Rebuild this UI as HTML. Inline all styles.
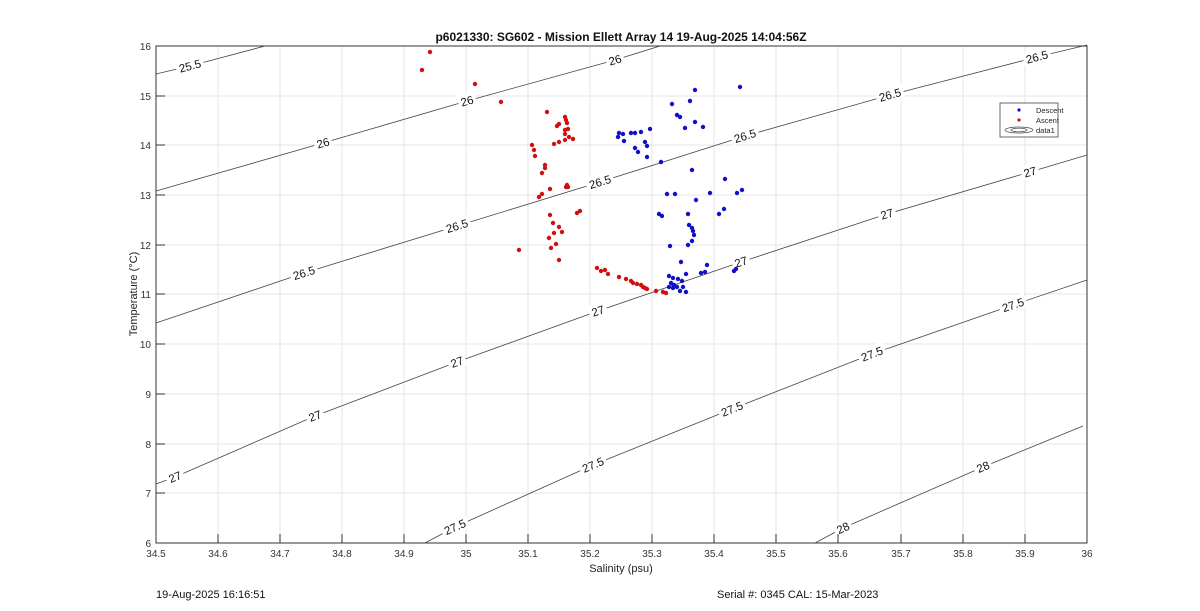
<!DOCTYPE html>
<html><head><meta charset="utf-8"><style>
body{margin:0;background:#fff;}
svg{display:block;font-family:"Liberation Sans",Arial,sans-serif;}
</style></head><body>
<svg width="1200" height="611" viewBox="0 0 1200 611" xmlns="http://www.w3.org/2000/svg">
<rect width="1200" height="611" fill="#fff"/>
<g stroke="#e6e6e6" stroke-width="1">
<line x1="218" y1="46" x2="218" y2="543"/><line x1="280" y1="46" x2="280" y2="543"/><line x1="342" y1="46" x2="342" y2="543"/><line x1="404" y1="46" x2="404" y2="543"/><line x1="466" y1="46" x2="466" y2="543"/><line x1="528" y1="46" x2="528" y2="543"/><line x1="590" y1="46" x2="590" y2="543"/><line x1="652" y1="46" x2="652" y2="543"/><line x1="714" y1="46" x2="714" y2="543"/><line x1="776" y1="46" x2="776" y2="543"/><line x1="838" y1="46" x2="838" y2="543"/><line x1="901" y1="46" x2="901" y2="543"/><line x1="963" y1="46" x2="963" y2="543"/><line x1="1025" y1="46" x2="1025" y2="543"/>
<line x1="156" y1="96" x2="1087" y2="96"/><line x1="156" y1="145" x2="1087" y2="145"/><line x1="156" y1="195" x2="1087" y2="195"/><line x1="156" y1="245" x2="1087" y2="245"/><line x1="156" y1="294" x2="1087" y2="294"/><line x1="156" y1="344" x2="1087" y2="344"/><line x1="156" y1="394" x2="1087" y2="394"/><line x1="156" y1="444" x2="1087" y2="444"/><line x1="156" y1="493" x2="1087" y2="493"/>
</g>
<g fill="none" stroke="#444" stroke-width="0.8">
<polyline points="156,74 190,66 265,46"/>
<polyline points="156,191 323,143 467,101 615,60 660,46"/>
<polyline points="156,323 304,273 457,226 600,182 745,136 890,95 1037,57 1087,45"/>
<polyline points="156,484 175,477 315,416 457,362 598,311 741,262 887,214 1030,172 1087,155"/>
<polyline points="425,543 455,527 593,465 732,409 872,354 1013,305 1087,280"/>
<polyline points="815,543 843,528 983,467 1083,426"/>
</g>
<g font-size="11.5" fill="#111" text-anchor="middle">
<g transform="translate(190,66) rotate(-15)"><rect x="-14" y="-8" width="28" height="14" fill="#fff"/><text y="4">25.5</text></g>
<g transform="translate(323,143) rotate(-16)"><rect x="-9" y="-8" width="18" height="14" fill="#fff"/><text y="4">26</text></g>
<g transform="translate(467,101) rotate(-16)"><rect x="-9" y="-8" width="18" height="14" fill="#fff"/><text y="4">26</text></g>
<g transform="translate(615,60) rotate(-16)"><rect x="-9" y="-8" width="18" height="14" fill="#fff"/><text y="4">26</text></g>
<g transform="translate(304,273) rotate(-17)"><rect x="-14" y="-8" width="28" height="14" fill="#fff"/><text y="4">26.5</text></g>
<g transform="translate(457,226) rotate(-17)"><rect x="-14" y="-8" width="28" height="14" fill="#fff"/><text y="4">26.5</text></g>
<g transform="translate(600,182) rotate(-17)"><rect x="-14" y="-8" width="28" height="14" fill="#fff"/><text y="4">26.5</text></g>
<g transform="translate(745,136) rotate(-17)"><rect x="-14" y="-8" width="28" height="14" fill="#fff"/><text y="4">26.5</text></g>
<g transform="translate(890,95) rotate(-16)"><rect x="-14" y="-8" width="28" height="14" fill="#fff"/><text y="4">26.5</text></g>
<g transform="translate(1037,57) rotate(-15)"><rect x="-14" y="-8" width="28" height="14" fill="#fff"/><text y="4">26.5</text></g>
<g transform="translate(175,477) rotate(-22)"><rect x="-9" y="-8" width="18" height="14" fill="#fff"/><text y="4">27</text></g>
<g transform="translate(315,416) rotate(-21)"><rect x="-9" y="-8" width="18" height="14" fill="#fff"/><text y="4">27</text></g>
<g transform="translate(457,362) rotate(-20)"><rect x="-9" y="-8" width="18" height="14" fill="#fff"/><text y="4">27</text></g>
<g transform="translate(598,311) rotate(-19)"><rect x="-9" y="-8" width="18" height="14" fill="#fff"/><text y="4">27</text></g>
<g transform="translate(741,262) rotate(-18)"><rect x="-9" y="-8" width="18" height="14" fill="#fff"/><text y="4">27</text></g>
<g transform="translate(887,214) rotate(-17)"><rect x="-9" y="-8" width="18" height="14" fill="#fff"/><text y="4">27</text></g>
<g transform="translate(1030,172) rotate(-16)"><rect x="-9" y="-8" width="18" height="14" fill="#fff"/><text y="4">27</text></g>
<g transform="translate(455,527) rotate(-24)"><rect x="-14" y="-8" width="28" height="14" fill="#fff"/><text y="4">27.5</text></g>
<g transform="translate(593,465) rotate(-23)"><rect x="-14" y="-8" width="28" height="14" fill="#fff"/><text y="4">27.5</text></g>
<g transform="translate(732,409) rotate(-22)"><rect x="-14" y="-8" width="28" height="14" fill="#fff"/><text y="4">27.5</text></g>
<g transform="translate(872,354) rotate(-21)"><rect x="-14" y="-8" width="28" height="14" fill="#fff"/><text y="4">27.5</text></g>
<g transform="translate(1013,305) rotate(-19)"><rect x="-14" y="-8" width="28" height="14" fill="#fff"/><text y="4">27.5</text></g>
<g transform="translate(843,528) rotate(-25)"><rect x="-9" y="-8" width="18" height="14" fill="#fff"/><text y="4">28</text></g>
<g transform="translate(983,467) rotate(-23)"><rect x="-9" y="-8" width="18" height="14" fill="#fff"/><text y="4">28</text></g>
</g>
<g fill="#d01010">
<circle cx="422" cy="70" r="2.2"/><circle cx="430" cy="52" r="2.2"/><circle cx="475" cy="84" r="2.2"/><circle cx="501" cy="102" r="2.2"/><circle cx="547" cy="112" r="2.2"/><circle cx="557" cy="126" r="2.2"/><circle cx="559" cy="124" r="2.2"/><circle cx="565" cy="117" r="2.2"/><circle cx="566" cy="120" r="2.2"/><circle cx="567" cy="123" r="2.2"/><circle cx="565" cy="130" r="2.2"/><circle cx="568" cy="129" r="2.2"/><circle cx="565" cy="134" r="2.2"/><circle cx="569" cy="137" r="2.2"/><circle cx="573" cy="139" r="2.2"/><circle cx="554" cy="144" r="2.2"/><circle cx="559" cy="142" r="2.2"/><circle cx="565" cy="140" r="2.2"/><circle cx="532" cy="145" r="2.2"/><circle cx="534" cy="150" r="2.2"/><circle cx="535" cy="156" r="2.2"/><circle cx="545" cy="165" r="2.2"/><circle cx="545" cy="168" r="2.2"/><circle cx="542" cy="173" r="2.2"/><circle cx="567" cy="185" r="2.2"/><circle cx="568" cy="187" r="2.2"/><circle cx="566" cy="187" r="2.2"/><circle cx="550" cy="189" r="2.2"/><circle cx="542" cy="194" r="2.2"/><circle cx="539" cy="197" r="2.2"/><circle cx="577" cy="213" r="2.2"/><circle cx="580" cy="211" r="2.2"/><circle cx="550" cy="215" r="2.2"/><circle cx="553" cy="223" r="2.2"/><circle cx="559" cy="227" r="2.2"/><circle cx="562" cy="232" r="2.2"/><circle cx="554" cy="233" r="2.2"/><circle cx="549" cy="238" r="2.2"/><circle cx="556" cy="244" r="2.2"/><circle cx="551" cy="248" r="2.2"/><circle cx="559" cy="260" r="2.2"/><circle cx="519" cy="250" r="2.2"/><circle cx="597" cy="268" r="2.2"/><circle cx="601" cy="271" r="2.2"/><circle cx="605" cy="270" r="2.2"/><circle cx="608" cy="274" r="2.2"/><circle cx="619" cy="277" r="2.2"/><circle cx="626" cy="279" r="2.2"/><circle cx="631" cy="281" r="2.2"/><circle cx="633" cy="283" r="2.2"/><circle cx="637" cy="284" r="2.2"/><circle cx="641" cy="285" r="2.2"/><circle cx="643" cy="287" r="2.2"/><circle cx="645" cy="288" r="2.2"/><circle cx="647" cy="289" r="2.2"/><circle cx="656" cy="291" r="2.2"/><circle cx="663" cy="292" r="2.2"/><circle cx="666" cy="293" r="2.2"/>
</g>
<g fill="#1010c8">
<circle cx="740" cy="87" r="2.2"/><circle cx="695" cy="90" r="2.2"/><circle cx="690" cy="101" r="2.2"/><circle cx="672" cy="104" r="2.2"/><circle cx="695" cy="122" r="2.2"/><circle cx="703" cy="127" r="2.2"/><circle cx="677" cy="115" r="2.2"/><circle cx="680" cy="117" r="2.2"/><circle cx="685" cy="128" r="2.2"/><circle cx="619" cy="133" r="2.2"/><circle cx="623" cy="134" r="2.2"/><circle cx="631" cy="133" r="2.2"/><circle cx="635" cy="133" r="2.2"/><circle cx="641" cy="132" r="2.2"/><circle cx="650" cy="129" r="2.2"/><circle cx="618" cy="137" r="2.2"/><circle cx="624" cy="141" r="2.2"/><circle cx="645" cy="142" r="2.2"/><circle cx="647" cy="146" r="2.2"/><circle cx="635" cy="148" r="2.2"/><circle cx="638" cy="152" r="2.2"/><circle cx="647" cy="157" r="2.2"/><circle cx="661" cy="162" r="2.2"/><circle cx="692" cy="170" r="2.2"/><circle cx="725" cy="179" r="2.2"/><circle cx="667" cy="194" r="2.2"/><circle cx="675" cy="194" r="2.2"/><circle cx="710" cy="193" r="2.2"/><circle cx="737" cy="193" r="2.2"/><circle cx="742" cy="190" r="2.2"/><circle cx="696" cy="200" r="2.2"/><circle cx="724" cy="209" r="2.2"/><circle cx="719" cy="214" r="2.2"/><circle cx="659" cy="214" r="2.2"/><circle cx="662" cy="216" r="2.2"/><circle cx="688" cy="214" r="2.2"/><circle cx="689" cy="225" r="2.2"/><circle cx="692" cy="228" r="2.2"/><circle cx="693" cy="231" r="2.2"/><circle cx="694" cy="235" r="2.2"/><circle cx="692" cy="241" r="2.2"/><circle cx="688" cy="245" r="2.2"/><circle cx="670" cy="246" r="2.2"/><circle cx="681" cy="262" r="2.2"/><circle cx="707" cy="265" r="2.2"/><circle cx="686" cy="274" r="2.2"/><circle cx="701" cy="273" r="2.2"/><circle cx="705" cy="272" r="2.2"/><circle cx="734" cy="271" r="2.2"/><circle cx="736" cy="269" r="2.2"/><circle cx="669" cy="276" r="2.2"/><circle cx="673" cy="278" r="2.2"/><circle cx="678" cy="279" r="2.2"/><circle cx="682" cy="281" r="2.2"/><circle cx="671" cy="283" r="2.2"/><circle cx="674" cy="285" r="2.2"/><circle cx="677" cy="287" r="2.2"/><circle cx="673" cy="288" r="2.2"/><circle cx="680" cy="291" r="2.2"/><circle cx="686" cy="292" r="2.2"/><circle cx="683" cy="287" r="2.2"/><circle cx="669" cy="287" r="2.2"/>
</g>
<rect x="156" y="46" width="931" height="497" fill="none" stroke="#333" stroke-width="1"/>
<g stroke="#333">
<line x1="218" y1="543" x2="218" y2="534"/><line x1="280" y1="543" x2="280" y2="534"/><line x1="342" y1="543" x2="342" y2="534"/><line x1="404" y1="543" x2="404" y2="534"/><line x1="466" y1="543" x2="466" y2="534"/><line x1="528" y1="543" x2="528" y2="534"/><line x1="590" y1="543" x2="590" y2="534"/><line x1="652" y1="543" x2="652" y2="534"/><line x1="714" y1="543" x2="714" y2="534"/><line x1="776" y1="543" x2="776" y2="534"/><line x1="838" y1="543" x2="838" y2="534"/><line x1="901" y1="543" x2="901" y2="534"/><line x1="963" y1="543" x2="963" y2="534"/><line x1="1025" y1="543" x2="1025" y2="534"/>
<line x1="156" y1="96" x2="165" y2="96"/><line x1="156" y1="145" x2="165" y2="145"/><line x1="156" y1="195" x2="165" y2="195"/><line x1="156" y1="245" x2="165" y2="245"/><line x1="156" y1="294" x2="165" y2="294"/><line x1="156" y1="344" x2="165" y2="344"/><line x1="156" y1="394" x2="165" y2="394"/><line x1="156" y1="444" x2="165" y2="444"/><line x1="156" y1="493" x2="165" y2="493"/>
</g>
<g font-size="10" fill="#333" text-anchor="middle">
<text x="156" y="557">34.5</text><text x="218" y="557">34.6</text><text x="280" y="557">34.7</text><text x="342" y="557">34.8</text><text x="404" y="557">34.9</text><text x="466" y="557">35</text><text x="528" y="557">35.1</text><text x="590" y="557">35.2</text><text x="652" y="557">35.3</text><text x="714" y="557">35.4</text><text x="776" y="557">35.5</text><text x="838" y="557">35.6</text><text x="901" y="557">35.7</text><text x="963" y="557">35.8</text><text x="1025" y="557">35.9</text><text x="1087" y="557">36</text>
</g>
<g font-size="10" fill="#333" text-anchor="end">
<text x="151" y="50">16</text><text x="151" y="100">15</text><text x="151" y="149">14</text><text x="151" y="199">13</text><text x="151" y="249">12</text><text x="151" y="298">11</text><text x="151" y="348">10</text><text x="151" y="398">9</text><text x="151" y="448">8</text><text x="151" y="497">7</text><text x="151" y="547">6</text>
</g>
<text x="621" y="572" font-size="11" fill="#222" text-anchor="middle">Salinity (psu)</text>
<text transform="translate(137,294) rotate(-90)" font-size="11" fill="#222" text-anchor="middle">Temperature (°C)</text>
<text x="621" y="41" font-size="12" font-weight="bold" fill="#111" text-anchor="middle">p6021330: SG602 - Mission Ellett Array 14 19-Aug-2025 14:04:56Z</text>
<text x="156" y="598" font-size="11" fill="#111">19-Aug-2025 16:16:51</text>
<text x="717" y="598" font-size="11" fill="#111">Serial #: 0345  CAL: 15-Mar-2023</text>
<g>
<rect x="1000" y="103" width="58" height="34" fill="#fff" stroke="#444" stroke-width="0.8"/>
<circle cx="1019" cy="110" r="1.6" fill="#1010c8"/>
<circle cx="1019" cy="120" r="1.6" fill="#d01010"/>
<ellipse cx="1019" cy="130" rx="14" ry="3" fill="none" stroke="#444" stroke-width="0.7"/>
<ellipse cx="1019" cy="130" rx="8" ry="1.8" fill="none" stroke="#444" stroke-width="0.7"/>
<g font-size="7.5" fill="#222"><text x="1036" y="113">Descent</text><text x="1036" y="123">Ascent</text><text x="1036" y="133">data1</text></g>
</g>
</svg>
</body></html>
